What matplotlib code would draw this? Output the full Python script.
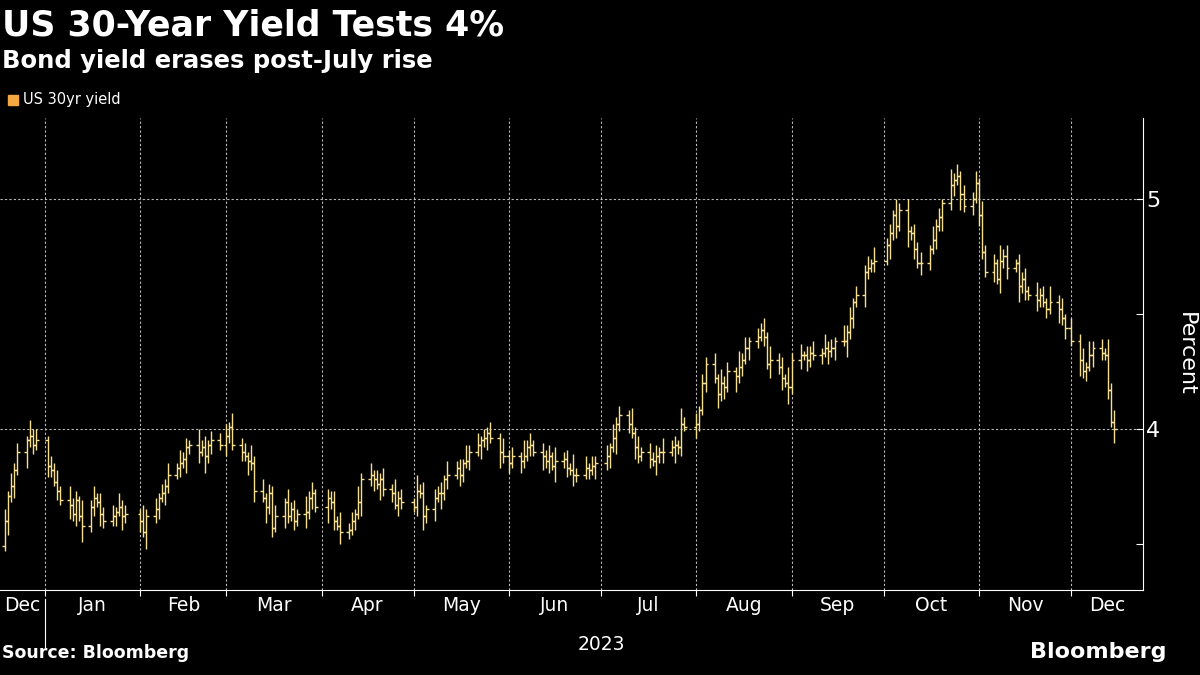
import matplotlib
matplotlib.use("Agg")
import matplotlib.pyplot as plt
import matplotlib.dates as mdates
import numpy as np
import pandas as pd

# month start -> daily closes (percent)
months = ["2022-12-16", "2023-01-01", "2023-02-01", "2023-03-01", "2023-04-01", "2023-05-01",
          "2023-06-01", "2023-07-01", "2023-08-01", "2023-09-01", "2023-10-01", "2023-11-01",
          "2023-12-01"]
month_ends = ["2022-12-30", "2023-01-31", "2023-02-28", "2023-03-31", "2023-04-30", "2023-05-31",
              "2023-06-30", "2023-07-31", "2023-08-31", "2023-09-30", "2023-10-31", "2023-11-30",
              "2023-12-15"]
closes = [
    [3.49, 3.60, 3.71, 3.75, 3.82, 3.90, 3.95, 3.97, 3.93, 3.95],
    [3.84, 3.82, 3.77, 3.73, 3.69, 3.67, 3.63, 3.69, 3.62, 3.58, 3.66, 3.70, 3.68, 3.63, 3.60, 3.62, 3.64, 3.66, 3.62, 3.63],
    [3.60, 3.55, 3.62, 3.65, 3.70, 3.72, 3.75, 3.80, 3.83, 3.85, 3.87, 3.92, 3.93, 3.90, 3.92, 3.88, 3.93, 3.95, 3.93],
    [3.97, 4.01, 3.93, 3.90, 3.88, 3.86, 3.85, 3.73, 3.70, 3.66, 3.72, 3.57, 3.62, 3.68, 3.62, 3.65, 3.60, 3.63, 3.64, 3.70, 3.72, 3.66],
    [3.70, 3.68, 3.60, 3.58, 3.55, 3.56, 3.60, 3.63, 3.68, 3.78, 3.80, 3.78, 3.76, 3.78, 3.74, 3.72, 3.67, 3.70, 3.68],
    [3.66, 3.73, 3.72, 3.62, 3.65, 3.70, 3.72, 3.72, 3.78, 3.80, 3.83, 3.80, 3.85, 3.86, 3.90, 3.93, 3.95, 3.96, 3.98, 3.96, 3.90, 3.88],
    [3.85, 3.88, 3.86, 3.88, 3.92, 3.93, 3.90, 3.88, 3.86, 3.88, 3.84, 3.86, 3.87, 3.83, 3.82, 3.80, 3.80, 3.83, 3.82, 3.84, 3.85],
    [3.88, 3.92, 3.96, 4.02, 4.06, 4.02, 3.98, 3.92, 3.88, 3.90, 3.87, 3.86, 3.88, 3.90, 3.90, 3.92, 3.93, 3.92, 4.02, 4.01],
    [4.02, 4.08, 4.20, 4.28, 4.22, 4.15, 4.20, 4.18, 4.25, 4.23, 4.27, 4.30, 4.35, 4.38, 4.40, 4.43, 4.40, 4.28, 4.30, 4.27, 4.22, 4.20, 4.18],
    [4.30, 4.32, 4.32, 4.30, 4.33, 4.32, 4.33, 4.35, 4.34, 4.35, 4.38, 4.38, 4.42, 4.48, 4.55, 4.58, 4.68, 4.70, 4.72, 4.73],
    [4.80, 4.85, 4.93, 4.88, 4.95, 4.86, 4.85, 4.78, 4.72, 4.72, 4.78, 4.82, 4.88, 4.92, 4.98, 5.06, 5.08, 5.10, 5.02, 4.97, 5.00, 5.07],
    [4.93, 4.77, 4.68, 4.72, 4.65, 4.73, 4.75, 4.70, 4.72, 4.62, 4.65, 4.60, 4.58, 4.56, 4.58, 4.55, 4.52, 4.55, 4.52, 4.48, 4.44],
    [4.38, 4.30, 4.25, 4.27, 4.32, 4.35, 4.33, 4.32, 4.17, 4.03, 4.00],
]
# intraday extension above / below the open-close body (percent)
wick_hi = [0.03, 0.05, 0.02, 0.06, 0.03, 0.04, 0.02, 0.07, 0.03, 0.05, 0.02, 0.04]
wick_lo = [0.04, 0.02, 0.06, 0.03, 0.05, 0.02, 0.07, 0.03, 0.04, 0.02, 0.05, 0.03, 0.02]

month_labels = ["Dec", "Jan", "Feb", "Mar", "Apr", "May", "Jun", "Jul", "Aug", "Sep", "Oct", "Nov", "Dec"]

BG = "black"
BAR = "#f7e08c"
fig = plt.figure(figsize=(12, 6.75), dpi=100, facecolor=BG)
ax = fig.add_axes([0.0, 0.126, 0.9525, 0.699], facecolor=BG)

dates, cl = [], []
for s, e, vals in zip(months, month_ends, closes):
    d = pd.bdate_range(s, e)
    d = d[:len(vals)] if len(d) >= len(vals) else pd.date_range(s, e, periods=len(vals))
    dates.extend(d)
    cl.extend(vals)
x = mdates.date2num(pd.DatetimeIndex(dates))
cl = np.array(cl)
op = np.concatenate([[cl[0] - 0.03], cl[:-1]])
hi = np.maximum(op, cl) + np.array([wick_hi[i % len(wick_hi)] for i in range(len(cl))])
lo = np.minimum(op, cl) - np.array([wick_lo[i % len(wick_lo)] for i in range(len(cl))])

ax.vlines(x, lo, hi, color=BAR, lw=1.0)
ax.hlines(op, x - 0.9, x, color=BAR, lw=1.0)
ax.hlines(cl, x, x + 0.9, color=BAR, lw=1.0)

x0 = pd.Timestamp("2022-12-17 08:00")
x1 = pd.Timestamp("2023-12-24 10:00")
ax.set_xlim(mdates.date2num(x0), mdates.date2num(x1))
ax.set_ylim(3.30, 5.35)

# grid
for t in [4, 5]:
    ax.axhline(t, color="#bbbbbb", lw=0.8, ls=(0, (2, 2)), zorder=0)
mstarts = pd.date_range("2023-01-01", "2023-12-01", freq="MS")
for m in mstarts:
    ax.axvline(mdates.date2num(m), color="#bbbbbb", lw=0.8, ls=(0, (2, 2)), zorder=0)

for sp in ["top", "left"]:
    ax.spines[sp].set_visible(False)
ax.spines["right"].set_color("white")
ax.spines["bottom"].set_color("white")

ax.yaxis.tick_right()
ax.set_yticks([3.5, 4, 4.5, 5])
ax.set_yticklabels(["", "4", "", "5"])
ax.tick_params(axis="y", colors="white", labelsize=16, length=5, direction="in", pad=-2)
for lab in ax.get_yticklabels():
    lab.set_x(1.005)
ax.yaxis.set_label_position("right")
ax.set_ylabel("Percent", color="white", fontsize=16, rotation=270, labelpad=26)

ax.set_xticks(mdates.date2num(mstarts))
ax.set_xticklabels([])
ax.tick_params(axis="x", colors="white", length=4)
centers = []
bounds = [x0] + list(mstarts) + [x1]
for a, b in zip(bounds[:-1], bounds[1:]):
    centers.append(mdates.date2num(a) + (mdates.date2num(b) - mdates.date2num(a)) / 2)
ax.set_xticks(centers, minor=True)
ax.set_xticklabels(month_labels, minor=True)
ax.tick_params(axis="x", which="minor", length=0, labelsize=13.5, colors="white", pad=4)

ax.text(mdates.date2num(pd.Timestamp("2023-07-01")), -0.095, "2023", transform=ax.get_xaxis_transform(),
        ha="center", va="top", color="white", fontsize=13.5)
ax.plot([mdates.date2num(pd.Timestamp("2023-01-01"))] * 2, [-0.02, -0.12], transform=ax.get_xaxis_transform(),
        color="white", lw=0.8, clip_on=False)

fig.text(0.002, 0.962, "US 30-Year Yield Tests 4%", color="white", fontsize=25, fontweight="bold", va="center")
fig.text(0.002, 0.910, "Bond yield erases post-July rise", color="white", fontsize=17.5, fontweight="bold", va="center")
fig.patches.append(plt.Rectangle((0.007, 0.845), 0.008, 0.014, transform=fig.transFigure, color="#f5a742"))
fig.text(0.019, 0.852, "US 30yr yield", color="white", fontsize=10.5, va="center")
fig.text(0.002, 0.02, "Source: Bloomberg", color="white", fontsize=12.5, fontweight="bold", va="bottom")
fig.text(0.972, 0.02, "Bloomberg", color="white", fontsize=16, fontweight="bold", va="bottom", ha="right")

fig.savefig("out.png", dpi=100, facecolor=BG)
